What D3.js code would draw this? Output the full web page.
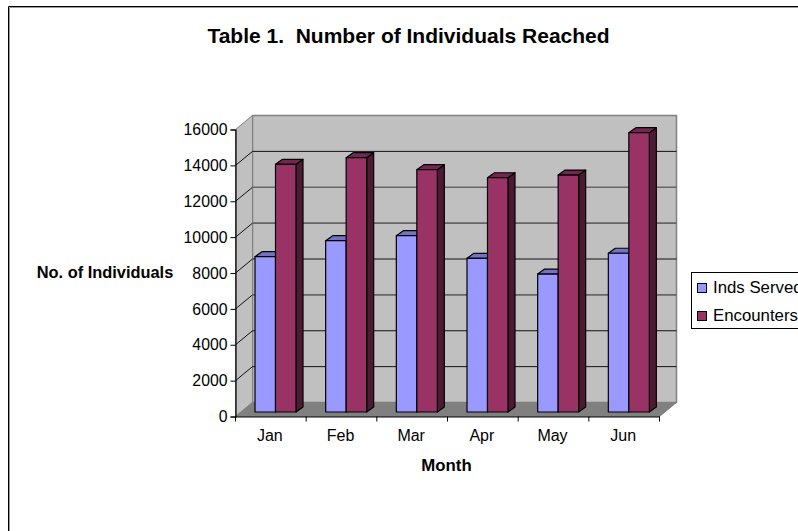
<!DOCTYPE html>
<html><head><meta charset="utf-8"><script src="https://d3js.org/d3.v7.min.js"></script>
<style>html,body{margin:0;padding:0;background:#fff}svg{display:block}text{font-family:"Liberation Sans",Arial,sans-serif;fill:#000}</style></head>
<body><svg id="c" width="798" height="531"></svg>
<script>
const months=["Jan","Feb","Mar","Apr","May","Jun"];
const indsServed=[8660,9550,9830,8570,7690,8850];
const encounters=[13810,14180,13510,13060,13210,15570];
const yTicks=[0,2000,4000,6000,8000,10000,12000,14000,16000];
const seriesNames=["Inds Served","Encounters"];
const titleText="Table 1.  Number of Individuals Reached";
const xTitle="Month", yTitle="No. of Individuals";

const svg=d3.select("#c");
const L=235.5,R=659.5,B=416.5,T=129.5,DX=17,DY=-14;
const y=d3.scaleLinear().domain([0,16000]).range([B,T]);
const x=d3.scaleBand().domain(months).range([L,R]);
const pts=a=>a.map(p=>p.join(",")).join(" ");

// frame
svg.append("path").attr("d","M8.5,531V6.5H798").attr("fill","none").attr("stroke","#000").attr("stroke-width",1);
svg.append("path").attr("d","M9.5,531V7.5H798").attr("fill","none").attr("stroke","#999").attr("stroke-width",1);

// walls
svg.append("polygon").attr("points",pts([[L+DX,T+DY],[R+DX,T+DY],[R+DX,B+DY],[L+DX,B+DY]])).attr("fill","#c0c0c0").attr("stroke","#808080").attr("stroke-width",1.5);
svg.append("polygon").attr("points",pts([[L,T],[L+DX,T+DY],[L+DX,B+DY],[L,B]])).attr("fill","#c0c0c0").attr("stroke","#808080").attr("stroke-width",1);
svg.append("polygon").attr("points",pts([[L,B],[L+DX,B+DY],[R+DX,B+DY],[R,B]])).attr("fill","#808080").attr("stroke","#808080");

// gridlines: side-wall part is thin and black, back-wall part varies from resampling in the source
const gridStyle=t=>(t===12000||t===10000||t===6000)?["#666",1.6]:["#111",1];
yTicks.slice(1,-1).forEach(t=>{
  const [c,w]=gridStyle(t);
  svg.append("path").attr("d",`M${L},${y(t)}L${L+DX},${y(t)+DY}`).attr("fill","none").attr("stroke","#111");
  svg.append("path").attr("d",`M${L+DX},${y(t)+DY}H${R+DX}`).attr("fill","none").attr("stroke",c).attr("stroke-width",w);
});

// bars
const BW=20.5,BD=7,BDY=-5,BASE=-4.5,OFF=19.5;
const bar=(m,v,xl,c,top,side)=>{
  const h=(B-y(v)), x0=xl, x1=xl+BW, yb=B+BASE, yt=yb-h;
  const g=svg.append("g").attr("stroke","#000").attr("stroke-width",1.2).attr("stroke-linejoin","round");
  g.append("polygon").attr("points",pts([[x1,yt],[x1+BD,yt+BDY],[x1+BD,yb+BDY],[x1,yb]])).attr("fill",side);
  g.append("polygon").attr("points",pts([[x0,yt],[x0+BD,yt+BDY],[x1+BD,yt+BDY],[x1,yt]])).attr("fill",top);
  g.append("rect").attr("x",x0).attr("y",yt).attr("width",BW).attr("height",h).attr("fill",c);
};
months.forEach((m,i)=>{
  const s=x(m)+OFF;
  bar(m,indsServed[i],s,"#9999ff","#7373bf","#4d4d80");
  bar(m,encounters[i],s+BW,"#993366","#732650","#4d1a33");
});

// axes
const yAxis=svg.append("g").attr("transform",`translate(${L},0)`).call(d3.axisLeft(y).tickValues(yTicks).tickSize(5).tickPadding(3).tickFormat(d3.format("d")));
yAxis.selectAll("text").attr("font-size",15.8).attr("dy","0.33em");
const xAxis=svg.append("g").attr("transform",`translate(0,${B})`).call(d3.axisBottom(x).tickSize(0).tickPadding(13));
xAxis.selectAll("text").attr("font-size",16).attr("dx",-1).attr("dy","0.7em");
xAxis.selectAll(".tb").data(d3.range(7)).enter().append("line").attr("x1",i=>L+i*x.step()).attr("x2",i=>L+i*x.step()).attr("y1",0).attr("y2",5).attr("stroke","#000");
svg.selectAll(".domain").attr("stroke","#000").attr("stroke-width",1.2);

// titles
svg.append("text").attr("x",408.5).attr("y",43).attr("text-anchor","middle").attr("font-size",21).attr("font-weight","bold").style("white-space","pre").text(titleText);
svg.append("text").attr("x",446.5).attr("y",471).attr("text-anchor","middle").attr("font-size",16.8).attr("font-weight","bold").text(xTitle);
svg.append("text").attr("x",105).attr("y",278).attr("text-anchor","middle").attr("font-size",16.4).attr("font-weight","bold").text(yTitle);

// legend
svg.append("rect").attr("x",691.5).attr("y",272.5).attr("width",120).attr("height",56).attr("fill","#fff").attr("stroke","#000");
[["#9999ff",0],["#993366",1]].forEach(([c,i])=>{
  svg.append("rect").attr("x",697.5).attr("y",283.5+i*28).attr("width",9).attr("height",9).attr("fill",c).attr("stroke","#000");
  svg.append("text").attr("x",713).attr("y",292.5+i*28).attr("font-size",16.8).text(seriesNames[i]);
});
</script></body></html>
